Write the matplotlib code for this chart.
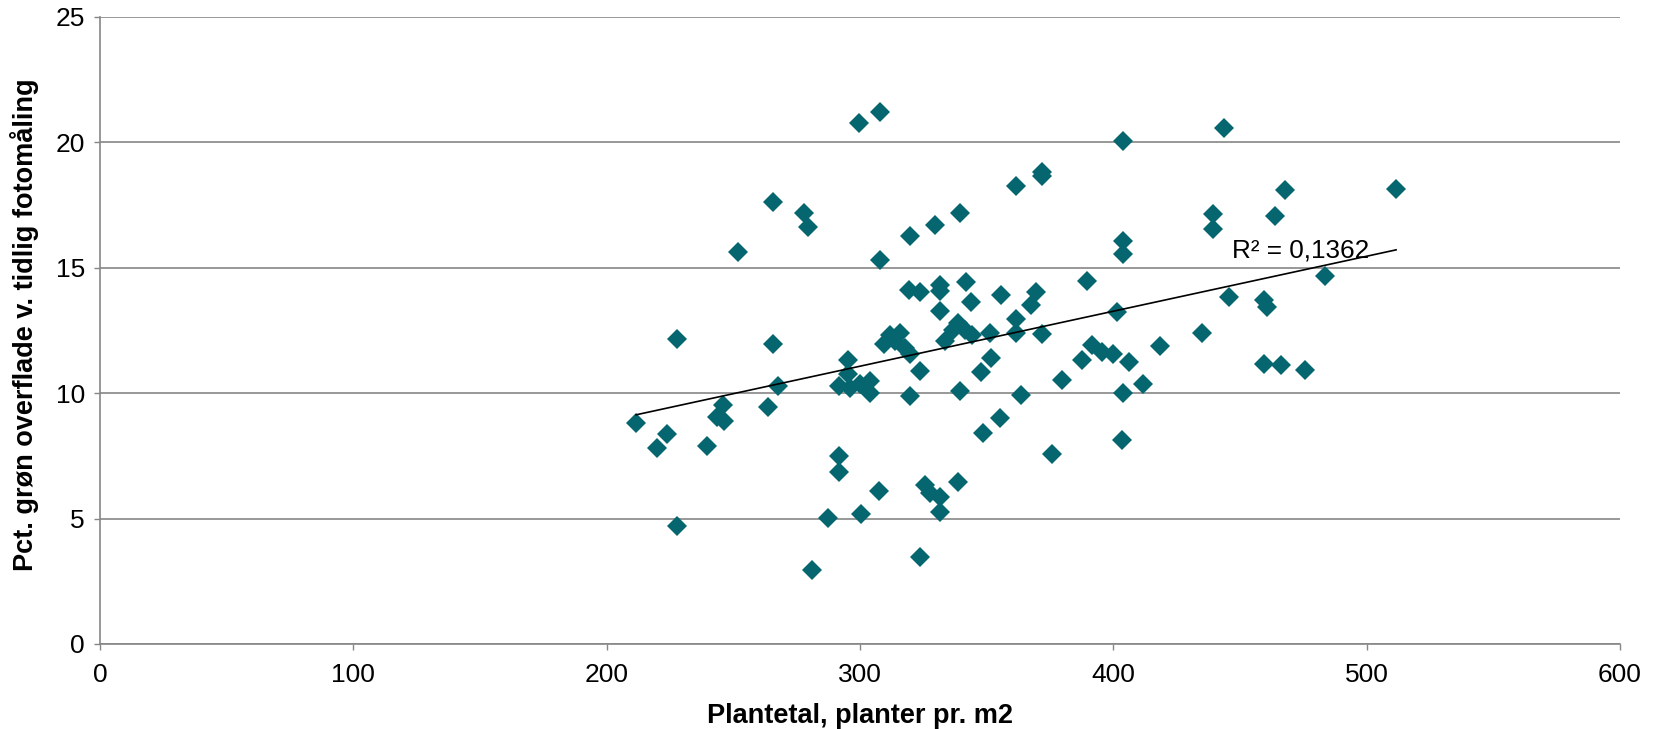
import numpy as np
import matplotlib
matplotlib.use("Agg")
import matplotlib.pyplot as plt

plt.rcParams['font.family'] = ['Liberation Sans', 'DejaVu Sans']

# Plant density (plants per m2) and green-cover percentage at the early photo reading
plants = [
    211.6, 219.8, 223.6, 227.7, 227.7, 239.5, 243.7, 245.7, 246.2, 251.7,
    263.7, 265.6, 265.6, 267.8, 277.7, 279.6, 281.2, 287.5, 291.5, 291.5,
    291.5, 295.4, 295.4, 296.1, 299.6, 300.0, 300.4, 304.0, 304.0, 307.5,
    307.7, 307.7, 309.4, 311.9, 313.9, 315.8, 317.8, 319.6, 319.5, 319.8,
    319.8, 323.7, 323.7, 323.7, 325.7, 327.7, 329.6, 331.6, 331.6, 331.6,
    331.6, 331.6, 333.6, 336.8, 338.8, 338.8, 339.6, 339.6, 341.5, 341.8,
    343.6, 344.1, 347.7, 348.5, 351.4, 351.6, 355.3, 355.7, 361.6, 361.5,
    361.5, 363.6, 367.5, 369.5, 371.8, 371.8, 371.8, 375.7, 379.7, 387.6,
    389.5, 391.5, 395.5, 399.8, 401.6, 403.7, 403.7, 403.7, 403.7, 403.4,
    406.0, 411.6, 418.5, 434.9, 439.5, 439.5, 443.5, 445.8, 459.6, 460.6,
    459.6, 466.1, 463.6, 467.6, 475.7, 483.6, 511.6,
]
green_pct = [
    8.80, 7.83, 8.38, 12.16, 4.72, 7.90, 9.04, 9.52, 8.90, 15.64,
    9.46, 17.62, 11.96, 10.30, 17.17, 16.63, 2.95, 5.02, 7.48, 6.84,
    10.30, 11.33, 10.77, 10.21, 20.79, 10.38, 5.19, 10.49, 10.01, 6.12,
    21.21, 15.32, 11.98, 12.34, 12.07, 12.40, 11.80, 16.25, 14.10, 11.55,
    9.87, 14.03, 10.90, 3.46, 6.35, 6.02, 16.71, 14.33, 14.06, 13.29,
    5.88, 5.28, 12.10, 12.53, 12.80, 6.44, 17.17, 10.08, 12.53, 14.44,
    13.64, 12.34, 10.86, 8.41, 12.40, 11.40, 9.01, 13.93, 18.26, 12.96,
    12.40, 9.91, 13.53, 14.04, 18.80, 18.65, 12.38, 7.58, 10.54, 11.31,
    14.46, 11.94, 11.63, 11.58, 13.23, 20.05, 16.06, 15.53, 10.01, 8.14,
    11.23, 10.38, 11.88, 12.40, 17.13, 16.53, 20.57, 13.84, 13.71, 13.44,
    11.18, 11.14, 17.06, 18.12, 10.91, 14.66, 18.15,
]
r2_label = "R² = 0,1362"

x_ticks = [0, 100, 200, 300, 400, 500, 600]
y_ticks = [0, 5, 10, 15, 20, 25]

x = np.array(plants)
y = np.array(green_pct)

fig = plt.figure(figsize=(16.57, 7.29), dpi=100)
ax = fig.add_axes([0.0604, 0.1166, 0.9173, 0.8601])

grid_col = '#868686'
ax.set_xlim(0, 600)
ax.set_ylim(0, 25)
ax.set_xticks(x_ticks)
ax.set_yticks(y_ticks)
ax.yaxis.grid(True, color=grid_col, linewidth=1.2)
ax.set_axisbelow(True)
for s in ('top', 'right'):
    ax.spines[s].set_visible(False)
for s in ('left', 'bottom'):
    ax.spines[s].set_color(grid_col)
    ax.spines[s].set_linewidth(1.2)
ax.tick_params(axis='both', direction='out', length=4, width=1.0,
               color=grid_col, labelsize=19, labelcolor='black')
ax.tick_params(axis='x', pad=10)
ax.tick_params(axis='y', pad=7)

ax.plot(x, y, linestyle='none', marker='D', markersize=10.5,
        color='#05666f', markeredgewidth=0, zorder=3)

# Linear trend line over the data range
slope, intercept = np.polyfit(x, y, 1)
xs = np.array([x.min(), x.max()])
ax.plot(xs, slope * xs + intercept, color='black', linewidth=1.2, zorder=4)
ax.text(447, 15.69, r2_label, fontsize=18.8, va='center', ha='left', zorder=5)

ax.set_xlabel('Plantetal, planter pr. m2', fontsize=19.5, fontweight='bold')
ax.set_ylabel('Pct. grøn overflade v. tidlig fotomåling', fontsize=19.5, fontweight='bold')
ax.xaxis.set_label_coords(0.5, -0.094)
ax.yaxis.set_label_coords(-0.0405, 0.51)

fig.savefig('out.png', dpi=100, facecolor='white')
